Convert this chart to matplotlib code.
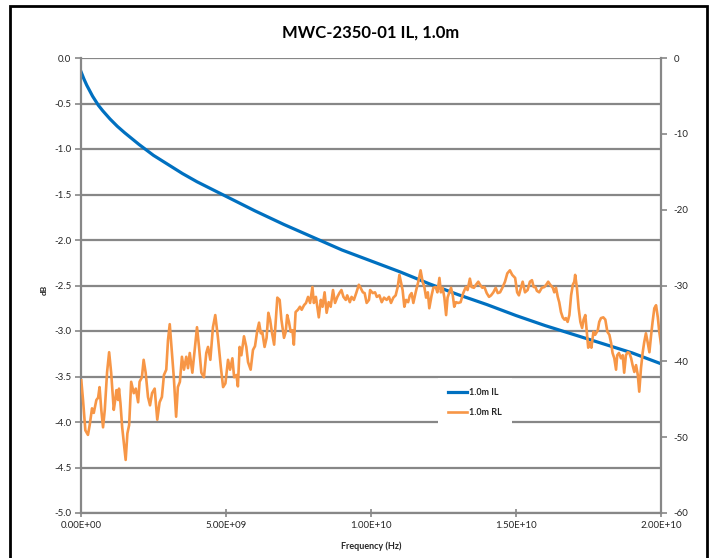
import matplotlib
matplotlib.use("Agg")
import matplotlib.pyplot as plt
from matplotlib.patches import Rectangle
from matplotlib.ticker import FuncFormatter, MultipleLocator, FixedLocator
import numpy as np

plt.rcParams['font.family'] = ['Lato', 'DejaVu Sans']

title = "MWC-2350-01 IL, 1.0m"
x_label = "Frequency (Hz)"
y_label = "dB"
il_label = "1.0m IL"
rl_label = "1.0m RL"

x_ticks_hz = [0, 5e9, 1e10, 1.5e10, 2e10]

il_freq_ghz = [0, 0.05, 0.1, 0.2, 0.3, 0.4, 0.5, 0.6, 0.75, 1.0, 1.25, 1.5, 2.0, 2.5,
               3.0, 3.5, 4.0, 5.0, 6.0, 7.0, 8.0, 9.0, 10.0, 11.0, 12.0, 13.0, 14.0,
               15.0, 16.0, 17.0, 18.0, 19.0, 20.0]
il_db = [-0.15, -0.19, -0.23, -0.30, -0.36, -0.42, -0.47, -0.52, -0.58, -0.67, -0.75,
         -0.82, -0.95, -1.07, -1.17, -1.27, -1.36, -1.52, -1.68, -1.83, -1.97, -2.11,
         -2.23, -2.35, -2.48, -2.60, -2.71, -2.83, -2.94, -3.04, -3.14, -3.24, -3.36]

rl_freq_ghz = [
    0.01, 0.07, 0.15, 0.24, 0.30, 0.38, 0.44, 0.53, 0.59, 0.64, 0.70, 0.76, 0.82, 0.90,
    0.97, 1.04, 1.13, 1.18, 1.22, 1.28, 1.31, 1.36, 1.42, 1.48, 1.54, 1.60, 1.66, 1.73,
    1.82, 1.89, 1.97, 2.02, 2.10, 2.16, 2.23, 2.31, 2.38, 2.45, 2.54, 2.63, 2.71, 2.79,
    2.86, 2.94, 3.00, 3.06, 3.11, 3.20, 3.28, 3.34, 3.41, 3.48, 3.55, 3.63, 3.69, 3.75,
    3.84, 3.92, 4.00, 4.07, 4.15, 4.24, 4.32, 4.38, 4.46, 4.55, 4.63, 4.72, 4.82, 4.90,
    4.98, 5.07, 5.14, 5.22, 5.28, 5.36, 5.41, 5.47, 5.53, 5.62, 5.70, 5.76, 5.85, 5.93,
    6.00, 6.08, 6.14, 6.20, 6.25, 6.33, 6.40, 6.46, 6.52, 6.58, 6.66, 6.71, 6.77, 6.85,
    6.91, 7.00, 7.06, 7.11, 7.17, 7.23, 7.29, 7.34, 7.40, 7.48, 7.55, 7.61, 7.69, 7.76,
    7.83, 7.90, 7.98, 8.03, 8.10, 8.20, 8.27, 8.33, 8.40, 8.47, 8.54, 8.61, 8.69, 8.76,
    8.84, 8.91, 8.98, 9.05, 9.13, 9.18, 9.27, 9.33, 9.41, 9.49, 9.58, 9.64, 9.72, 9.78,
    9.85, 9.93, 9.97, 10.06, 10.14, 10.20, 10.29, 10.37, 10.45, 10.54, 10.62, 10.69,
    10.77, 10.85, 10.92, 10.98, 11.03, 11.09, 11.15, 11.21, 11.28, 11.34, 11.40, 11.46,
    11.54, 11.63, 11.71, 11.78, 11.84, 11.90, 11.96, 12.01, 12.09, 12.15, 12.23, 12.29,
    12.36, 12.41, 12.47, 12.53, 12.59, 12.64, 12.70, 12.76, 12.82, 12.87, 12.93, 13.01,
    13.09, 13.18, 13.27, 13.33, 13.41, 13.47, 13.55, 13.62, 13.70, 13.76, 13.84, 13.91,
    13.99, 14.07, 14.14, 14.22, 14.30, 14.37, 14.45, 14.53, 14.62, 14.70, 14.79, 14.87,
    14.97, 15.04, 15.10, 15.17, 15.23, 15.31, 15.40, 15.48, 15.55, 15.61, 15.67, 15.72,
    15.80, 15.89, 15.98, 16.06, 16.11, 16.18, 16.27, 16.32, 16.38, 16.44, 16.49, 16.55,
    16.61, 16.67, 16.72, 16.78, 16.84, 16.90, 16.96, 17.01, 17.04, 17.10, 17.16, 17.22,
    17.28, 17.33, 17.39, 17.44, 17.49, 17.55, 17.60, 17.67, 17.73, 17.82, 17.87, 17.93,
    18.01, 18.08, 18.15, 18.22, 18.28, 18.33, 18.39, 18.45, 18.49, 18.55, 18.62, 18.68,
    18.73, 18.79, 18.85, 18.91, 18.97, 19.02, 19.08, 19.14, 19.20, 19.25, 19.31, 19.37,
    19.42, 19.48, 19.54, 19.60, 19.66, 19.71, 19.77, 19.83, 19.89, 19.94, 20.00]
rl_db = [
    -42.5, -45.1, -49.1, -49.7, -48.4, -46.2, -46.8, -45.1, -44.8, -43.4, -46.4, -48.7,
    -46.4, -41.4, -38.8, -41.5, -46.4, -45.1, -43.8, -45.1, -43.6, -45.5, -48.7, -50.8,
    -53.0, -49.5, -48.4, -42.7, -44.2, -43.6, -45.4, -42.7, -42.1, -39.8, -41.5, -44.7,
    -45.8, -44.2, -43.6, -47.7, -45.4, -44.7, -41.8, -41.1, -37.2, -35.1, -37.6, -42.1,
    -47.3, -43.4, -42.7, -39.4, -41.1, -39.4, -40.9, -38.9, -41.5, -38.5, -35.5, -38.1,
    -41.5, -42.1, -38.9, -38.1, -39.8, -35.5, -33.9, -36.8, -40.7, -43.4, -42.9, -39.8,
    -41.1, -39.6, -42.1, -41.8, -43.3, -38.1, -39.2, -36.7, -38.1, -40.1, -41.1, -38.5,
    -38.0, -35.9, -34.9, -36.3, -36.1, -38.1, -36.9, -33.6, -34.5, -36.1, -37.8, -34.9,
    -31.6, -31.9, -34.5, -36.9, -36.1, -33.9, -34.8, -36.1, -35.9, -37.8, -33.5, -33.2,
    -32.8, -33.2, -32.6, -32.3, -31.5, -32.3, -30.2, -32.3, -31.5, -34.2, -31.9, -32.8,
    -30.9, -33.6, -32.2, -32.8, -30.6, -32.3, -31.5, -31.0, -30.6, -31.5, -31.9, -31.3,
    -32.2, -31.5, -31.9, -31.0, -29.9, -30.3, -30.9, -31.0, -32.3, -31.9, -30.6, -31.0,
    -30.9, -31.5, -31.3, -32.2, -31.6, -31.9, -31.5, -32.3, -31.6, -31.3, -30.2, -28.6,
    -29.5, -30.6, -32.8, -31.9, -32.2, -31.3, -31.0, -32.3, -30.9, -29.5, -28.0, -29.5,
    -30.2, -31.6, -30.9, -33.0, -31.3, -30.3, -30.2, -30.9, -29.0, -30.9, -30.3, -31.6,
    -33.9, -31.6, -30.9, -30.3, -31.3, -32.8, -32.2, -32.3, -32.2, -31.0, -30.2, -30.6,
    -29.1, -30.2, -30.3, -29.9, -29.5, -29.9, -30.3, -30.2, -31.0, -31.5, -31.3, -30.9,
    -30.3, -31.0, -30.9, -30.3, -29.5, -28.4, -28.0, -28.6, -29.0, -30.9, -31.3, -30.3,
    -29.5, -30.9, -30.6, -29.5, -29.3, -30.2, -30.2, -30.7, -30.9, -30.3, -30.2, -29.8,
    -29.5, -29.9, -30.3, -30.9, -30.3, -31.5, -32.2, -33.5, -34.2, -34.5, -34.3, -34.8,
    -33.9, -31.3, -29.9, -29.5, -28.6, -30.3, -33.0, -34.8, -35.6, -34.5, -33.9, -36.1,
    -38.2, -37.5, -38.2, -36.1, -36.5, -35.9, -34.8, -34.3, -34.2, -34.5, -36.1, -36.5,
    -37.6, -38.9, -39.6, -41.1, -39.2, -38.9, -39.6, -39.2, -41.5, -39.2, -38.8, -38.9,
    -39.6, -40.5, -41.4, -40.5, -41.8, -44.0, -40.9, -38.8, -37.5, -36.3, -37.5, -38.8,
    -36.5, -34.8, -33.0, -32.6, -34.2, -36.1, -37.7]

W, H = 716, 558
GRID = '#878787'
TXT = '#262626'
BLUE = '#0070C0'
ORANGE = '#F79646'

fig = plt.figure(figsize=(W / 100, H / 100), dpi=100)
ax = fig.add_axes([81 / W, 1 - 513 / H, 580 / W, 455 / H])
ax2 = ax.twinx()

l1, = ax.plot(np.array(il_freq_ghz) * 1e9, il_db, color=BLUE, lw=2.3, label=il_label,
              solid_joinstyle='round')
l2, = ax2.plot(np.array(rl_freq_ghz) * 1e9, rl_db, color=ORANGE, lw=1.9, label=rl_label,
               solid_joinstyle='round')

ax.set_xlim(0, 2e10)
ax.set_ylim(-5, 0)
ax2.set_ylim(-60, 0)

ax.xaxis.set_major_locator(FixedLocator(x_ticks_hz))
ax.xaxis.set_major_formatter(FuncFormatter(lambda v, p: f"{v:.2E}"))
ax.yaxis.set_major_locator(MultipleLocator(0.5))
ax.yaxis.set_major_formatter(FuncFormatter(lambda v, p: f"{(0.0 if abs(v) < 1e-9 else v):.1f}"))
ax2.yaxis.set_major_locator(MultipleLocator(10))
ax2.yaxis.set_major_formatter(FuncFormatter(lambda v, p: f"{int(round(v))}"))

ax.set_axisbelow(True)
ax.grid(axis='y', color=GRID, lw=1.6)
ax.grid(axis='x', visible=False)

for a in (ax, ax2):
    for s in a.spines.values():
        s.set_color(GRID)
        s.set_linewidth(1.6)
ax.spines['right'].set_visible(False)
ax.spines['top'].set_visible(False)
ax2.spines['left'].set_visible(False)
ax2.spines['bottom'].set_visible(False)
ax2.spines['top'].set_visible(False)

ax.tick_params(axis='y', direction='out', length=4, width=1.2, color=GRID,
               labelsize=7, labelcolor=TXT, pad=3)
ax.tick_params(axis='x', direction='inout', length=6, width=1.2, color=GRID,
               labelsize=7, labelcolor=TXT, pad=3)
ax2.tick_params(axis='y', direction='out', length=4, width=1.2, color=GRID,
                labelsize=7, labelcolor=TXT, pad=5)

leg = fig.legend(handles=[l1, l2], loc='upper left',
                 bbox_to_anchor=(438 / W, 1 - 378 / H), bbox_transform=fig.transFigure,
                 frameon=True, fancybox=False, edgecolor='none', facecolor='white',
                 framealpha=1.0, prop={'size': 6.5, 'weight': 'bold'},
                 handlelength=2.1, handletextpad=0.2, labelspacing=1.2,
                 borderpad=1.15, borderaxespad=0)
for t in leg.get_texts():
    t.set_color(TXT)

fig.text(371 / W, 1 - 33 / H, title, ha='center', va='center', fontsize=12,
         fontweight='bold', color='black')
fig.text(371 / W, 1 - 546 / H, x_label, ha='center', va='center', fontsize=6.5,
         fontweight='bold', color=TXT)
fig.text(44 / W, 1 - 290 / H, y_label, ha='center', va='center', fontsize=6,
         fontweight='bold', rotation=90, color=TXT)

fig.patches.append(Rectangle((10 / W, -0.02), (707 - 10) / W, 1 - 6 / H + 0.02,
                             transform=fig.transFigure, fill=False, edgecolor='black',
                             linewidth=2.0, zorder=10))

fig.savefig("out.png", dpi=100)
